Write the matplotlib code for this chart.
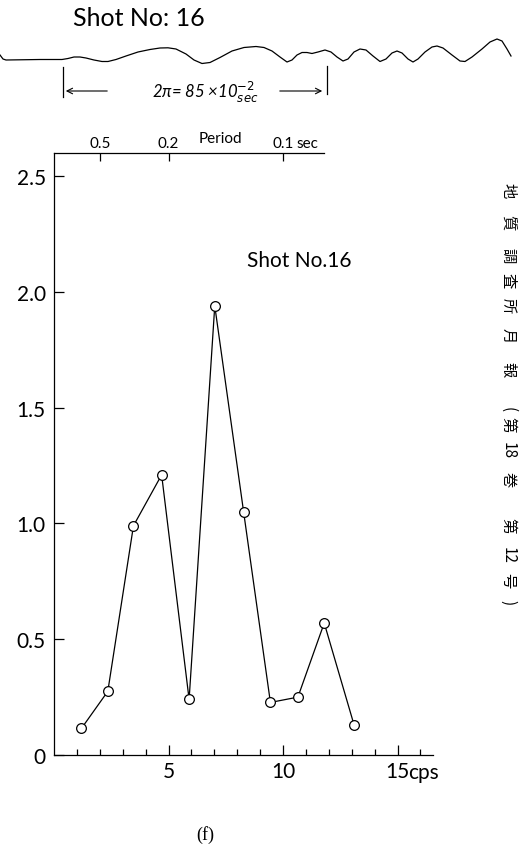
import matplotlib.pyplot as plt

plt.rcParams['font.family'] = ['Lato', 'DejaVu Sans']

# spectrum: frequency (cps) and amplitude
freq_cps = [1.20, 2.35, 3.47, 4.70, 5.90, 7.02, 8.28, 9.45, 10.65, 11.80, 13.10]
amplitude = [0.115, 0.275, 0.99, 1.21, 0.24, 1.94, 1.05, 0.227, 0.25, 0.57, 0.131]

y_ticks = [0, 0.5, 1.0, 1.5, 2.0, 2.5]
y_labels = ['0', '0.5', '1.0', '1.5', '2.0', '2.5']
x_major = [5, 10, 15]
x_minor = list(range(1, 17))
periods = [0.5, 0.2, 0.1]
period_labels = ['0.5', '0.2', '0.1']

# seismogram trace above the chart (page pixel units)
wave_x = [0, 3, 6, 40, 62, 68, 74, 80, 86, 94, 102, 108, 116, 126, 138, 150,
          160, 168, 176, 186, 194, 202, 210, 220, 232, 244, 256, 264, 272, 280,
          287, 292, 297, 302, 307, 312, 318, 325, 331, 337, 343, 348, 354, 360,
          366, 373, 380, 386, 392, 397, 402, 408, 413, 418, 425, 432, 437, 443,
          452, 460, 465, 472, 482, 490, 497, 502, 507, 511]
wave_y = [56, 60, 61, 60.5, 60.5, 59.5, 58, 58, 59, 61, 62.5, 62.5, 60.5, 57, 53, 50.5,
          49, 48.8, 50, 55, 61, 64.5, 63.5, 58.5, 52, 48.5, 47.5, 48.5, 52, 58,
          63, 61, 56, 53.5, 53.5, 54.5, 53, 51, 53, 58, 62, 60, 53, 50,
          51, 57, 62.5, 60, 54, 52, 54, 60, 63, 60, 53, 48, 47, 49,
          56, 62, 62.5, 58, 50, 43, 40, 42, 50, 57]

# running head printed sideways on the right margin
head_tokens = ['地', '質', '調', '査', '所', '月', '報', '(', '第', '18', '巻', '第', '12', '号', ')']
head_y = [191, 223, 256, 281, 306, 336, 370, 410, 425, 451, 480, 526, 555, 581, 603]

W, H = 525, 854
fig = plt.figure(figsize=(W / 100, H / 100), dpi=100)

# --- trace strip ---
wx = fig.add_axes([0, 1 - 110 / H, 1, 110 / H])
wx.set_xlim(0, W)
wx.set_ylim(110, 0)
wx.axis('off')
wx.plot(wave_x, wave_y, color='black', lw=0.9, solid_joinstyle='round')
wx.text(73, 18, 'Shot No: 16', fontsize=18, va='center', ha='left')
wx.plot([63, 63], [68, 98], color='black', lw=0.9)
wx.plot([327, 327], [67, 95], color='black', lw=0.9)
wx.annotate('', xy=(63, 92), xytext=(110, 92),
            arrowprops=dict(arrowstyle='->', lw=0.8, color='black'))
wx.annotate('', xy=(325, 92), xytext=(277, 92),
            arrowprops=dict(arrowstyle='->', lw=0.8, color='black'))
wx.text(205, 92, r'2π= 85 ×10$^{-2}_{sec}$', fontsize=12, style='italic',
        ha='center', va='center')

# --- spectrum axes ---
ax = fig.add_axes([54 / W, 1 - 756 / H, (433 - 54) / W, (756 - 154) / H])
ax.set_xlim(0, 16.55)
ax.set_ylim(0, 2.6)
ax.plot(freq_cps, amplitude, color='black', lw=0.9, marker='o', ms=7,
        mfc='white', mec='black', mew=0.9, clip_on=False)

for s in ['top', 'right']:
    ax.spines[s].set_visible(False)
for s in ['left', 'bottom']:
    ax.spines[s].set_linewidth(0.9)

ax.set_yticks(y_ticks)
ax.set_yticklabels(y_labels)
ax.set_xticks(x_major)
ax.set_xticklabels([str(v) for v in x_major])
ax.set_xticks(x_minor, minor=True)
ax.tick_params(axis='y', direction='in', length=7, width=0.9, pad=6, labelsize=15)
ax.tick_params(axis='x', which='major', direction='in', length=7, width=0.9,
               pad=4, labelsize=15)
ax.tick_params(axis='x', which='minor', direction='in', length=4, width=0.9)
ax.annotate('cps', xy=(15, 0), xycoords=('data', 'axes fraction'),
            xytext=(8, -5), textcoords='offset points', ha='left', va='top',
            fontsize=15)

# period scale on top
tw = ax.twiny()
tw.set_xlim(ax.get_xlim())
tw.set_xticks([1 / p for p in periods])
tw.set_xticklabels(period_labels)
tw.tick_params(direction='in', length=6, width=0.9, pad=2, labelsize=11)
for s in ['left', 'right', 'bottom']:
    tw.spines[s].set_visible(False)
tw.spines['top'].set_bounds(0, 11.8)
tw.spines['top'].set_linewidth(0.9)
tw.annotate('sec', xy=(10, 1), xycoords=('data', 'axes fraction'),
            xytext=(10, 2), textcoords='offset points', ha='left', va='bottom',
            fontsize=11)
fig.text(220 / W, 1 - 139 / H, 'Period', fontsize=11, ha='center', va='center')

fig.text(247 / W, 1 - 267 / H, 'Shot No.16', fontsize=15, ha='left', va='baseline')

for tok, y in zip(head_tokens, head_y):
    fig.text(508 / W, 1 - y / H, tok, rotation=-90, fontsize=11,
             family=['Noto Sans CJK JP', 'DejaVu Sans'], ha='center', va='center')

fig.text(205 / W, 1 - 835 / H, '(f)', fontsize=13, family='Liberation Serif',
         ha='center', va='center')

fig.savefig('out.png', dpi=100)
